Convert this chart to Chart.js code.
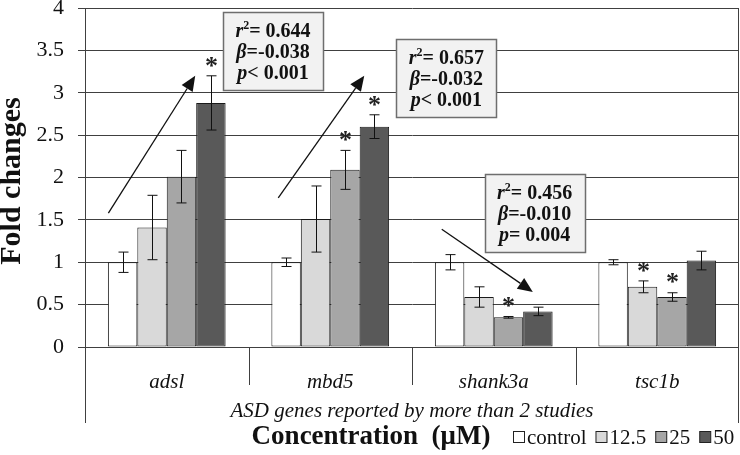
<!DOCTYPE html>
<html>
<head>
  <title>ASD genes fold changes</title>
  <script src="https://cdn.jsdelivr.net/npm/chart.js"></script>
  <style>
    body { margin: 0; background: #fff; }
  </style>
</head>
<body>
  <canvas id="myChart" width="740" height="455"></canvas>
  <script>
    var genes = ['adsl', 'mbd5', 'shank3a', 'tsc1b'];
    var doses = ['control', '12.5', '25', '50'];

    var control = [1.00, 1.00, 1.00, 1.00];
    var dose12 = [1.41, 1.51, 0.59, 0.71];
    var dose25 = [2.01, 2.09, 0.35, 0.59];
    var dose50 = [2.88, 2.60, 0.42, 1.02];

    var errControl = [0.12, 0.05, 0.09, 0.03];
    var err12 = [0.38, 0.39, 0.12, 0.07];
    var err25 = [0.31, 0.23, 0.01, 0.05];
    var err50 = [0.32, 0.14, 0.05, 0.11];

    // which bars get an asterisk (dataset index per gene)
    var starred = [[3], [2, 3], [2], [1, 2]];

    var regR2 = ['0.644', '0.657', '0.456'];
    var regBeta = ['-0.038', '-0.032', '-0.010'];
    var regP = ['< 0.001', '< 0.001', '= 0.004'];

    // arrow ends in data units: [category offset, value]
    var arrowFrom = [[-0.357, 1.58], [-0.318, 1.76], [-0.318, 1.39]];
    var arrowTo = [[0.174, 3.20], [0.208, 3.20], [0.239, 0.65]];
    // box top-centre in data units
    var boxAt = [[0.65, 3.95], [0.71, 3.64], [0.25, 2.04]];

    var fills = ['#ffffff', '#d9d9d9', '#a6a6a6', '#595959'];
    var serif = "'Liberation Serif', 'Times New Roman', serif";
    var gridColor = '#404040';

    var values = [control, dose12, dose25, dose50];
    var errors = [errControl, err12, err25, err50];

    var extras = {
      id: 'extras',
      afterDatasetsDraw: function(chart) {
        var ctx = chart.ctx;
        var x = chart.scales.x, y = chart.scales.y;
        var area = chart.chartArea;
        var catW = x.getPixelForValue(1) - x.getPixelForValue(0);

        ctx.save();
        ctx.strokeStyle = '#111';
        ctx.lineWidth = 1;

        // error bars and asterisks
        for (var d = 0; d < 4; d++) {
          var meta = chart.getDatasetMeta(d);
          meta.data.forEach(function(bar, i) {
            var v = values[d][i], e = errors[d][i];
            var cx = Math.round(bar.x) + 0.5;
            var top = y.getPixelForValue(v + e);
            var bot = y.getPixelForValue(v - e);
            ctx.beginPath();
            ctx.moveTo(cx, top); ctx.lineTo(cx, bot);
            ctx.moveTo(cx - 5, top); ctx.lineTo(cx + 5, top);
            ctx.moveTo(cx - 5, bot); ctx.lineTo(cx + 5, bot);
            ctx.stroke();
            if (starred[i].indexOf(d) >= 0) {
              ctx.fillStyle = '#222';
              ctx.font = 'bold 26px ' + serif;
              ctx.textAlign = 'center';
              ctx.textBaseline = 'middle';
              ctx.fillText('*', cx, top - 9);
            }
          });
        }

        // frame lines of the multi-level axis
        ctx.strokeStyle = gridColor;
        ctx.beginPath();
        ctx.moveTo(area.left + 0.5, area.top); ctx.lineTo(area.left + 0.5, 423);
        ctx.moveTo(area.right - 0.5, area.top); ctx.lineTo(area.right - 0.5, 423);
        for (var i = 0; i < genes.length - 1; i++) {
          var bx = Math.round((x.getPixelForValue(i) + x.getPixelForValue(i + 1)) / 2) + 0.5;
          ctx.moveTo(bx, area.bottom); ctx.lineTo(bx, 385);
        }
        ctx.stroke();

        // arrows
        ctx.strokeStyle = '#111';
        ctx.fillStyle = '#111';
        for (var a = 0; a < arrowFrom.length; a++) {
          var x0 = x.getPixelForValue(a) + arrowFrom[a][0] * catW;
          var y0 = y.getPixelForValue(arrowFrom[a][1]);
          var x1 = x.getPixelForValue(a) + arrowTo[a][0] * catW;
          var y1 = y.getPixelForValue(arrowTo[a][1]);
          var ang = Math.atan2(y1 - y0, x1 - x0);
          var hl = 15, hw = 6.5;
          var bxp = x1 - hl * Math.cos(ang), byp = y1 - hl * Math.sin(ang);
          ctx.lineWidth = 1.3;
          ctx.beginPath();
          ctx.moveTo(x0, y0); ctx.lineTo(bxp, byp);
          ctx.stroke();
          ctx.beginPath();
          ctx.moveTo(x1, y1);
          ctx.lineTo(bxp + hw * Math.sin(ang), byp - hw * Math.cos(ang));
          ctx.lineTo(bxp - hw * Math.sin(ang), byp + hw * Math.cos(ang));
          ctx.closePath();
          ctx.fill();
        }

        // regression boxes
        var bw = 100, bh = 78;
        for (var b = 0; b < boxAt.length; b++) {
          var cxb = x.getPixelForValue(b) + boxAt[b][0] * catW;
          var tyb = y.getPixelForValue(boxAt[b][1]);
          var lx = Math.round(cxb - bw / 2) + 0.5, ly = Math.round(tyb) + 0.5;
          ctx.fillStyle = '#f2f2f2';
          ctx.fillRect(lx, ly, bw, bh);
          ctx.strokeStyle = '#6e6e6e';
          ctx.lineWidth = 1.5;
          ctx.strokeRect(lx, ly, bw, bh);
          drawLine(ctx, cxb, ly + 19, [['r', true], ['2', false, true], ['= ' + regR2[b], false]]);
          drawLine(ctx, cxb, ly + 40, [['\u03b2', true], ['=' + regBeta[b], false]]);
          drawLine(ctx, cxb, ly + 61, [['p', true], [regP[b], false]]);
        }

        // lower labels
        ctx.fillStyle = '#111';
        ctx.textBaseline = 'middle';
        ctx.textAlign = 'center';
        ctx.font = 'italic 21px ' + serif;
        ctx.fillText('ASD genes reported by more than 2 studies', (area.left + area.right) / 2, 411);
        ctx.font = 'bold 27px ' + serif;
        ctx.fillText('Concentration  (\u03bcM)', 371, 437);

        // legend
        ctx.font = '21px ' + serif;
        ctx.textAlign = 'left';
        var lxp = 513;
        for (var k = 0; k < doses.length; k++) {
          ctx.fillStyle = fills[k];
          ctx.fillRect(lxp + 0.5, 431.5, 11, 11);
          ctx.strokeStyle = '#222';
          ctx.lineWidth = 1;
          ctx.strokeRect(lxp + 0.5, 431.5, 11, 11);
          ctx.fillStyle = '#111';
          ctx.fillText(doses[k], lxp + 14, 438);
          lxp += 14 + ctx.measureText(doses[k]).width + 9;
        }

        // y title
        ctx.save();
        ctx.translate(12, 181);
        ctx.rotate(-Math.PI / 2);
        ctx.textAlign = 'center';
        ctx.font = 'bold 30px ' + serif;
        ctx.fillText('Fold changes', 0, 0);
        ctx.restore();

        ctx.restore();
      }
    };

    function drawLine(ctx, cx, cy, parts) {
      var total = 0;
      parts.forEach(function(p) {
        ctx.font = (p[1] ? 'italic ' : '') + 'bold ' + (p[2] ? '12px ' : '20px ') + serif;
        total += ctx.measureText(p[0]).width;
      });
      var px = cx - total / 2;
      ctx.fillStyle = '#111';
      ctx.textAlign = 'left';
      ctx.textBaseline = 'middle';
      parts.forEach(function(p) {
        ctx.font = (p[1] ? 'italic ' : '') + 'bold ' + (p[2] ? '12px ' : '20px ') + serif;
        ctx.fillText(p[0], px, p[2] ? cy - 6 : cy);
        px += ctx.measureText(p[0]).width;
      });
    }

    var ctx = document.getElementById('myChart').getContext('2d');
    var chart = new Chart(ctx, {
      type: 'bar',
      data: {
        labels: genes,
        datasets: doses.map(function(name, d) {
          return {
            label: name,
            data: values[d],
            backgroundColor: fills[d],
            borderColor: '#1a1a1a',
            borderWidth: 1,
            borderSkipped: false,
            categoryPercentage: 0.72,
            barPercentage: 1.0
          };
        })
      },
      options: {
        responsive: false,
        animation: false,
        devicePixelRatio: 1,
        layout: { padding: { top: 8, right: 1, left: 0, bottom: 0 } },
        plugins: {
          legend: { display: false },
          tooltip: { enabled: false }
        },
        scales: {
          x: {
            grid: { display: false },
            border: { display: false },
            ticks: {
              color: '#111',
              padding: 15,
              font: { family: serif, size: 21, style: 'italic' }
            },
            afterFit: function(scale) {
              scale.height = 108;
              scale.paddingLeft = 0;
              scale.paddingRight = 0;
            }
          },
          y: {
            min: 0,
            max: 4,
            ticks: {
              stepSize: 0.5,
              color: '#111',
              padding: 14,
              font: { family: serif, size: 22 },
              callback: function(value) {
                return String(value);
              }
            },
            grid: { color: gridColor, tickLength: 7, lineWidth: 1 },
            border: { color: gridColor },
            afterFit: function(scale) {
              scale.width = 85;
              scale.paddingTop = 0;
              scale.paddingBottom = 0;
            }
          }
        }
      },
      plugins: [extras]
    });
  </script>
</body>
</html>
